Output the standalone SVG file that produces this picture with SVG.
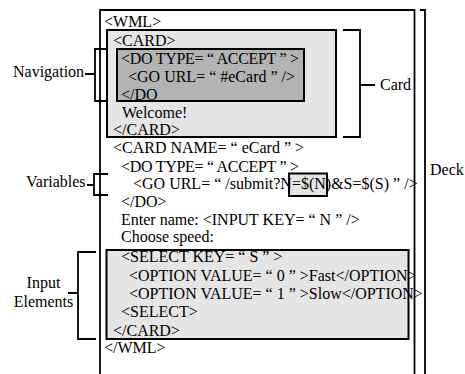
<svg xmlns="http://www.w3.org/2000/svg" width="465" height="374" viewBox="0 0 465 374">
<style>
text{font-family:"Liberation Serif","Times New Roman",serif;font-size:16px;fill:#000}
.ln{fill:none;stroke:#000;stroke-width:1.8}
.lg{fill:#e5e5e5;stroke:#000;stroke-width:2}
.dg{fill:#b3b3b3;stroke:#000;stroke-width:2}
</style>
<rect width="465" height="374" fill="#fff"/>
<g id="deck">
<path class="ln" d="M100,380 V10 H414.5 V380"/>
<text x="430" y="175">Deck</text>
</g>
<g id="card1">
<rect class="lg" x="107" y="30" width="229" height="107"/>
</g>
<g id="navigation-block">
<rect class="dg" x="117" y="49" width="187" height="52"/>
</g>
<g id="input-block">
<rect class="lg" x="106.5" y="250" width="302" height="89"/>
</g>
<g id="var-highlight">
<rect class="lg" x="289" y="173.5" width="38" height="22.5"/>
</g>
<g id="code">
<text x="104" y="27">&lt;WML&gt;</text>
<text x="113" y="46">&lt;CARD&gt;</text>
<text x="121" y="64" textLength="178" lengthAdjust="spacing">&lt;DO TYPE= “ ACCEPT ” &gt;</text>
<text x="128" y="82">&lt;GO URL= “ #eCard ” /&gt;</text>
<text x="121" y="100">&lt;/DO</text>
<text x="122" y="118">Welcome!</text>
<text x="113" y="135">&lt;/CARD&gt;</text>
<text x="113" y="153">&lt;CARD NAME= “ eCard ” &gt;</text>
<text x="121" y="172" textLength="178" lengthAdjust="spacing">&lt;DO TYPE= “ ACCEPT ” &gt;</text>
<text x="133" y="189">&lt;GO URL= “ /submit?N=$(N)&amp;S=$(S) ” /&gt;</text>
<text x="121" y="207">&lt;/DO&gt;</text>
<text x="121" y="225">Enter name: &lt;INPUT KEY= “ N ” /&gt;</text>
<text x="121" y="242">Choose speed:</text>
<text x="121" y="262">&lt;SELECT KEY= “ S ” &gt;</text>
<text x="129" y="281">&lt;OPTION VALUE= “ 0 ” &gt;Fast&lt;/OPTION&gt;</text>
<text x="129" y="299">&lt;OPTION VALUE= “ 1 ” &gt;Slow&lt;/OPTION&gt;</text>
<text x="121" y="317">&lt;SELECT&gt;</text>
<text x="113" y="336">&lt;/CARD&gt;</text>
<text x="104" y="353">&lt;/WML&gt;</text>
</g>
<g id="labels">
<text x="13" y="77">Navigation</text>
<text x="380" y="90">Card</text>
<text x="26" y="187">Variables</text>
<text x="43.5" y="288" text-anchor="middle">Input</text>
<text x="43.5" y="307" text-anchor="middle">Elements</text>
</g>
<g id="connectors">
<path class="ln" d="M343,30 H360 V137 H343 M360,85 H375"/>
<path class="ln" d="M420,10 H425 V380"/>
<path class="ln" d="M107,49 H95 V101 H107 M95,74 H85"/>
<path class="ln" d="M108,174 H94 V195 H108 M94,185 H87"/>
<path class="ln" d="M96,252 H78 V339 H96 M78,293 H68"/>
</g>
</svg>
